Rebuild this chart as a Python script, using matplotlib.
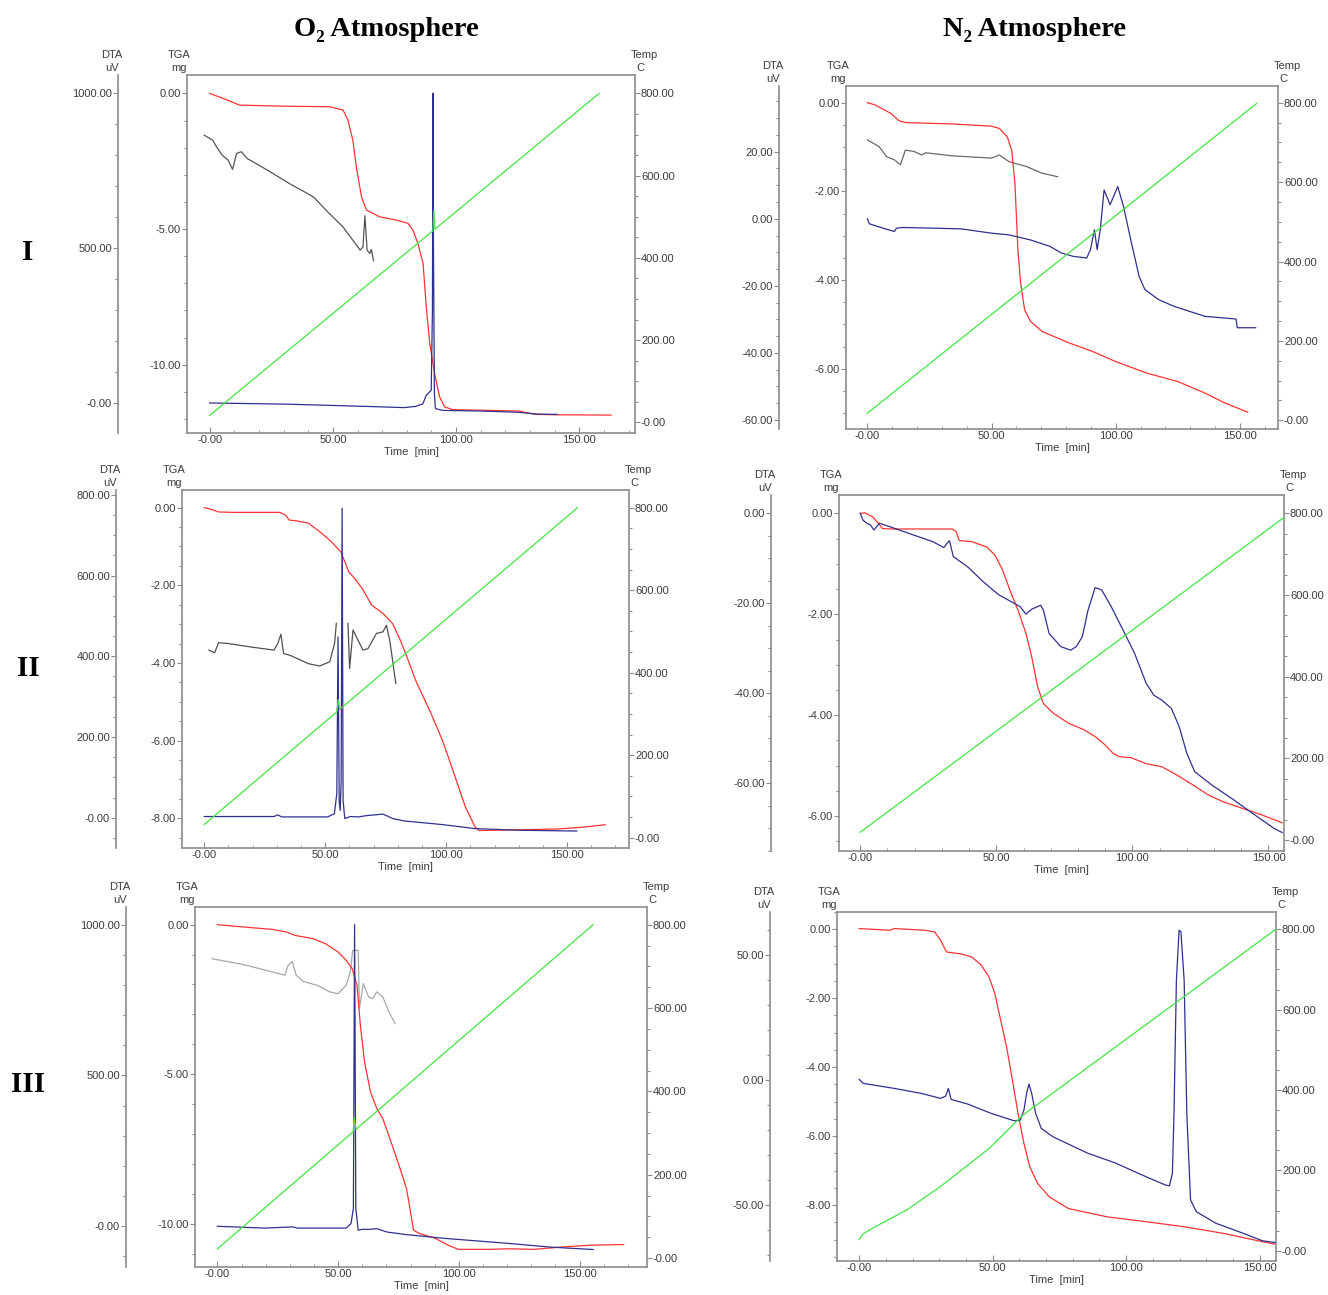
import matplotlib.pyplot as plt
from matplotlib.ticker import AutoMinorLocator

plt.rcParams['font.family'] = ['Liberation Sans', 'DejaVu Sans']

W, H = 1328, 1295
NAN = float('nan')

# ---------------- data ----------------
# O2, sample I
o2_1_tga_t = [0, 6, 12.1, 30, 48.7, 54.1, 56.1, 58.1, 59.5, 61.6, 63.6, 69.0, 75.8, 80.5, 82.5,
              84.5, 86.6, 87.9, 89.3, 91.3, 93.3, 95.4, 98.7, 110, 125.6, 131.8, 141.1, 162.9]
o2_1_tga = [0, -0.2, -0.43, -0.47, -0.49, -0.61, -0.98, -1.72, -2.70, -3.81, -4.30, -4.55, -4.67,
            -4.79, -5.04, -5.53, -6.27, -7.87, -9.22, -10.33, -11.19, -11.56, -11.66, -11.68,
            -11.71, -11.83, -11.85, -11.86]
o2_1_dta_t = [0, 32, 63, 79, 83.6, 86.5, 87.9, 89.9, 90.4, 90.6, 90.8, 91.2, 91.6, 94.5, 110, 125,
              133, 141]
o2_1_dta = [0, -4, -11, -15, -11, -3, 25, 41, 300, 1000, 520, 30, -18, -24, -26, -30, -36, -37]
o2_1_temp_t = [0, 90.6, 91.0, 91.4, 158]
o2_1_temp = [17, 466, 516, 470, 800]
o2_1_gray_t = [-2.2, 1.2, 2.8, 5.1, 7.5, 9.3, 10.9, 12.9, 15.2, 16.8, 24.6, 32.3, 40.9, 42.4, 47.9,
               54.1, 61.1, 62.2, 63.0, 63.9, 65.0, 65.6, 66.5]
o2_1_gray = [-1.54, -1.72, -1.97, -2.28, -2.46, -2.80, -2.21, -2.15, -2.40, -2.48, -2.89, -3.32,
             -3.75, -3.84, -4.37, -4.92, -5.78, -5.66, -4.51, -5.78, -5.90, -5.75, -6.17]

# N2, sample I
n2_1_tga_t = [0, 3.1, 9.4, 12.8, 15.6, 34.4, 50.0, 53.1, 56.3, 58.1, 59.4, 60.6, 61.7, 63.3, 65.6,
              70.3, 81.3, 90.6, 100, 112.5, 125, 135.9, 143.8, 153.1]
n2_1_tga = [0, -0.05, -0.24, -0.41, -0.45, -0.48, -0.53, -0.58, -0.77, -1.07, -1.82, -3.32, -4.07,
            -4.67, -4.93, -5.16, -5.42, -5.61, -5.84, -6.10, -6.29, -6.55, -6.77, -6.98]
n2_1_dta_t = [0, 0.8, 6.25, 10.9, 11.7, 14.1, 26.6, 37.5, 40.6, 50, 57, 65.6, 73.4, 78.1, 82.8, 88.3,
              89.8, 91.4, 92.5, 93.75, 95.3, 97.7, 100.8, 103.1, 106.3, 109.4, 111.7, 117.2, 123.4,
              135.9, 148.4, 148.9, 156.3]
n2_1_dta = [0, -1.5, -2.8, -3.8, -2.8, -2.6, -2.8, -3.0, -3.3, -4.3, -4.8, -6.3, -8.2, -10.2, -11.2,
            -11.7, -9.2, -3.3, -9.2, -3.3, 8.6, 4.2, 9.6, 3.7, -7.2, -17.2, -21.1, -24.1, -26.1,
            -29.1, -29.9, -32.5, -32.5]
n2_1_temp_t = [0, 156.7]
n2_1_temp = [18, 798]
n2_1_gray_t = [0, 4.7, 7.8, 10.9, 13.3, 15.3, 18.75, 21.9, 23.4, 34.4, 50, 53.1, 57, 64, 70.3, 76.6]
n2_1_gray = [-0.84, -0.99, -1.22, -1.29, -1.40, -1.07, -1.10, -1.18, -1.13, -1.20, -1.25, -1.18,
             -1.33, -1.44, -1.59, -1.67]

# O2, sample II
o2_2_tga_t = [0, 2.7, 5.9, 11.4, 31.2, 33.6, 35.2, 38.3, 43.1, 47.8, 52.6, 56.5, 59.7, 62.1, 65.3,
              69.2, 74, 77.9, 81.1, 84.3, 87.4, 93.8, 98.5, 103.3, 108.0, 112.0, 113.6, 130.2, 146,
              157.1, 165.8]
o2_2_tga = [0, -0.04, -0.11, -0.12, -0.12, -0.19, -0.32, -0.34, -0.40, -0.62, -0.88, -1.14, -1.65,
            -1.82, -2.08, -2.51, -2.73, -2.99, -3.42, -3.93, -4.45, -5.31, -6.0, -6.86, -7.72,
            -8.23, -8.32, -8.30, -8.28, -8.23, -8.17]
o2_2_dta_t = [0, 28.8, 30.4, 32, 51, 53.8, 54.8, 55.3, 55.8, 56.2, 56.6, 57.0, 57.4, 58.1, 60.5,
              63.7, 66.8, 73.9, 77.9, 82.7, 98.5, 112, 130, 154]
o2_2_dta = [3, 3, 7, 2, 2, 10, 60, 448, 40, 18, 90, 767, 43, -2, 3, 2, 5, 9, -2, -8, -17, -27, -31,
            -33]
o2_2_temp_t = [0, 54.8, 55.4, 56.0, 154.3]
o2_2_temp = [32, 305, 335, 311, 800]
o2_2_gray_t = [1.9, 4.3, 5.9, 9.8, 19.3, 28.8, 30.4, 31.7, 32.8, 35.3, 43.1, 47.7, 51.9, 53.9, 54.6,
               NAN, 59.4, 60.1, 61.5, 62.9, 65.6, 67.7, 71.2, 73.9, 75.3, 76.7, 79.2]
o2_2_gray = [-3.67, -3.74, -3.48, -3.50, -3.59, -3.67, -3.50, -3.26, -3.76, -3.80, -4.02, -4.08,
             -3.97, -3.49, -2.98, NAN, -2.98, -4.14, -3.15, -3.33, -3.67, -3.63, -3.24, -3.20,
             -3.03, -3.42, -4.53]

# N2, sample II
n2_2_tga_t = [0, 1.7, 4.6, 6.7, 8.1, 11, 33.8, 35.2, 36.4, 40.9, 46.6, 49.5, 52.3, 55.2, 58.0, 60.9,
              63.0, 65.2, 67.3, 70.9, 76.6, 82.3, 86.5, 89.4, 93.0, 95.1, 99.4, 105.1, 110.8, 116.5,
              122.2, 127.9, 133.6, 140.7, 147.8, 155]
n2_2_tga = [0, 0.01, -0.07, -0.20, -0.30, -0.31, -0.31, -0.36, -0.54, -0.56, -0.67, -0.83, -1.12,
            -1.55, -1.92, -2.38, -2.84, -3.44, -3.77, -3.96, -4.16, -4.29, -4.43, -4.56, -4.76,
            -4.82, -4.84, -4.96, -5.02, -5.19, -5.38, -5.58, -5.72, -5.85, -5.98, -6.13]
n2_2_dta_t = [0, 1, 2.4, 3.8, 5.0, 6.0, 7.0, 11, 19.5, 26.7, 30.7, 32.4, 32.8, 34.2, 39.5, 45.2, 50.9,
              56.6, 58.7, 60.9, 63, 66.3, 67.3, 69.4, 73.7, 77.3, 79.4, 81.6, 83.7, 86.3, 88.7, 92.2,
              97.2, 100.8, 105.1, 107.9, 110.8, 114.3, 117.2, 120.0, 122.9, 129.3, 136.4, 145.0,
              152.1, 155]
n2_2_dta = [0, -1.5, -2.2, -2.6, -3.7, -3.0, -2.2, -3.0, -4.8, -6.3, -7.6, -6.3, -6.1, -9.6, -11.9,
            -15.2, -18.1, -20.0, -20.7, -22.4, -21.3, -20.4, -21.5, -26.7, -29.6, -30.4, -29.6,
            -27.4, -21.5, -16.5, -17.0, -20.7, -26.7, -31.1, -37.8, -40.4, -41.5, -43.3, -47.4,
            -53.3, -57.4, -60.4, -63.3, -67.0, -70.0, -70.9]
n2_2_temp_t = [0, 155.7]
n2_2_temp = [19, 790]

# O2, sample III
o2_3_tga_t = [0, 11, 22.8, 28.7, 32.1, 39.7, 44.8, 49.9, 53.3, 55.8, 57.8, 59.2, 60.9, 63.4, 66,
              68.5, 71.9, 75.2, 78.3, 79.5, 81.2, 83.7, 90.5, 95.5, 99.8, 112.4, 120.9, 131, 142.9,
              154.7, 168.2]
o2_3_tga = [0, -0.08, -0.16, -0.25, -0.36, -0.47, -0.64, -0.91, -1.19, -1.47, -2.03, -3.37, -4.59,
            -5.60, -6.15, -6.49, -7.27, -8.05, -8.83, -9.39, -10.22, -10.33, -10.50, -10.72,
            -10.86, -10.86, -10.84, -10.86, -10.78, -10.72, -10.70]
o2_3_dta_t = [0, 19.4, 31.3, 33, 53.3, 55.3, 56.3, 56.8, 57.3, 58.3, 60, 63.4, 66, 70.2, 78.6, 95.5,
              120.9, 137.8, 155.6]
o2_3_dta = [0, -6, -2, -6, -6, 9, 59, 1000, 59, -13, -10, -10, -8, -19, -28, -41, -57, -69, -77]
o2_3_temp_t = [0, 56.2, 56.6, 57.4, 155.6]
o2_3_temp = [22, 303, 338, 309, 800]
o2_3_gray_t = [-2.2, 11, 27.9, 29.3, 31, 32.6, 35.5, 41.4, 46.5, 49.9, 53.3, 55, 56, 58.3, 58.8,
               60.4, 62.6, 64.3, 66, 68.5, 71, 73.6]
o2_3_gray = [-1.14, -1.34, -1.69, -1.36, -1.23, -1.69, -1.90, -2.03, -2.25, -2.31, -2.03, -1.58,
             -0.86, -0.86, -2.81, -1.97, -2.42, -2.47, -2.25, -2.42, -2.92, -3.31]

# N2, sample III
n2_3_tga_t = [0, 11.6, 13.1, 24.7, 28.3, 30.5, 32.7, 37.8, 42.1, 45.7, 48.6, 50.8, 53.0, 55.2, 57.4,
              59.5, 61.7, 63.9, 66.8, 71.2, 78.4, 92.9, 107.5, 122, 136.5, 151, 155.7]
n2_3_tga = [0.02, -0.03, 0.02, -0.03, -0.08, -0.32, -0.66, -0.71, -0.80, -1.04, -1.38, -1.86, -2.64,
            -3.41, -4.38, -5.34, -6.21, -6.89, -7.37, -7.76, -8.10, -8.34, -8.48, -8.63, -8.82,
            -9.06, -9.13]
n2_3_dta_t = [0, 1.5, 13.1, 23.2, 30.5, 32.4, 33.4, 34.4, 40.7, 49.4, 55.2, 58.1, 60.3, 61.7, 62.7,
              63.6, 64.6, 66.1, 68.2, 72.6, 85.7, 95.8, 107.5, 114.7, 116.2, 117.3, 117.9, 118.8,
              119.8, 120.5, 121.7, 122.7, 124.1, 126.3, 133.6, 143.8, 151, 155.7]
n2_3_dta = [0.3, -1.3, -3.3, -5.3, -7.3, -6.4, -3.3, -7.7, -9.6, -13.3, -15.3, -16.3, -16.0, -12.0,
            -5.3, -1.6, -5.3, -13.3, -19.3, -22.7, -29.3, -33.1, -38.7, -42, -42.3, -37.3, -13.3,
            40, 60, 59.3, 40, -13.3, -48, -52.7, -57.3, -61.3, -64.3, -65]
n2_3_temp_t = [0, 1.5, 5, 17.7, 30.1, 48.8, 61.2, 156]
n2_3_temp = [28, 42, 56, 101, 158, 255, 337, 800]

# tick values / labels
x_ticks = [0, 50, 100, 150]
x_labels = ['-0.00', '50.00', '100.00', '150.00']
temp_ticks = [800, 600, 400, 200, 0]
temp_labels = ['800.00', '600.00', '400.00', '200.00', '-0.00']
tga_ticks_5 = [0, -5, -10]
tga_labels_5 = ['0.00', '-5.00', '-10.00']
tga_ticks_2 = [0, -2, -4, -6, -8]
tga_labels_2 = ['0.00', '-2.00', '-4.00', '-6.00', '-8.00']
dta_ticks_o2_1 = [1000, 500, 0]
dta_labels_o2_1 = ['1000.00', '500.00', '-0.00']
dta_ticks_n2_1 = [20, 0, -20, -40, -60]
dta_labels_n2_1 = ['20.00', '0.00', '-20.00', '-40.00', '-60.00']
dta_ticks_o2_2 = [800, 600, 400, 200, 0]
dta_labels_o2_2 = ['800.00', '600.00', '400.00', '200.00', '-0.00']
dta_ticks_n2_2 = [0, -20, -40, -60]
dta_labels_n2_2 = ['0.00', '-20.00', '-40.00', '-60.00']
dta_ticks_n2_3 = [50, 0, -50]
dta_labels_n2_3 = ['50.00', '0.00', '-50.00']

# ---------------- styling ----------------
RED = '#ff3333'
GREEN = '#42e642'
BLUE = '#30308f'
FRAME = '#8c8c8c'
TXT = '#3c3c3c'
LW = 0.9
FS = 8


def draw_panel(fig, frame, dta_off, lims, tga_tk, dta_tk, minors,
               tga, dta, temp, gray=None, gray_color='#555555'):
    l, t, r, b = frame
    wpx, hpx = r - l, b - t
    ax = fig.add_axes([l / W, 1 - b / H, wpx / W, hpx / H])
    ax_dta = ax.twinx()
    ax_tmp = ax.twinx()

    xl, tgal, dtal, tmpl = lims
    ax.set_xlim(*xl)
    ax.set_ylim(*tgal)
    ax_dta.set_ylim(*dtal)
    ax_tmp.set_ylim(*tmpl)

    # frame
    for s in ax.spines.values():
        s.set_color(FRAME)
        s.set_linewidth(1.2)
    for s in ax_dta.spines.values():
        s.set_visible(False)
    for s in ax_tmp.spines.values():
        s.set_visible(False)
    sp = ax_dta.spines['left']
    sp.set_visible(True)
    sp.set_position(('axes', -dta_off / wpx))
    sp.set_color(FRAME)
    sp.set_linewidth(1.2)
    ax_dta.yaxis.set_ticks_position('left')
    ax_dta.yaxis.set_label_position('left')

    ax.set_xticks(x_ticks, labels=x_labels)
    ax.set_yticks(tga_tk[0], labels=tga_tk[1])
    ax_dta.set_yticks(dta_tk[0], labels=dta_tk[1])
    ax_tmp.set_yticks(temp_ticks, labels=temp_labels)

    ax.xaxis.set_minor_locator(AutoMinorLocator(5))
    ax.yaxis.set_minor_locator(AutoMinorLocator(minors[0]))
    ax_dta.yaxis.set_minor_locator(AutoMinorLocator(minors[1]))
    ax_tmp.yaxis.set_minor_locator(AutoMinorLocator(4))

    ax.tick_params(axis='x', which='major', direction='in', length=4, pad=1.5,
                   labelsize=FS, labelcolor=TXT, color=FRAME, top=False)
    ax.tick_params(axis='x', which='minor', direction='in', length=2.5, color=FRAME, top=False)
    for a in (ax, ax_dta, ax_tmp):
        a.tick_params(axis='y', which='major', direction='out', length=3.5, pad=0.8,
                      labelsize=FS, labelcolor=TXT, color=FRAME, width=0.8)
        a.tick_params(axis='y', which='minor', direction='out', length=2.5,
                      color=FRAME, width=0.8)

    # curves
    if gray is not None:
        ax.plot(gray[0], gray[1], color=gray_color, lw=LW)
    ax.plot(tga[0], tga[1], color=RED, lw=LW)
    ax_dta.plot(dta[0], dta[1], color=BLUE, lw=LW)
    ax_tmp.plot(temp[0], temp[1], color=GREEN, lw=LW)

    # axis titles
    tx = dict(fontsize=FS, color=TXT, ha='center', va='center', transform=ax.transAxes)
    y1, y2 = 1 + 20 / hpx, 1 + 7 / hpx
    xd = -(dta_off + 6) / wpx
    ax.text(xd, y1, 'DTA', **tx)
    ax.text(xd, y2, 'uV', **tx)
    ax.text(-8 / wpx, y1, 'TGA', **tx)
    ax.text(-8 / wpx, y2, 'mg', **tx)
    ax.text(1 + 9 / wpx, y1, 'Temp', **tx)
    ax.text(1 + 5 / wpx, y2, 'C', **tx)
    ax.text(0.5, -19 / hpx, 'Time  [min]', **tx)
    return ax


fig = plt.figure(figsize=(W / 100, H / 100), dpi=100)

draw_panel(fig, (187, 75, 635, 433), 69,
           ((-9.2, 172.6), (-12.52, 0.68), (-97, 1059), (-26, 845)),
           (tga_ticks_5, tga_labels_5), (dta_ticks_o2_1, dta_labels_o2_1), (5, 5),
           (o2_1_tga_t, o2_1_tga), (o2_1_dta_t, o2_1_dta), (o2_1_temp_t, o2_1_temp),
           (o2_1_gray_t, o2_1_gray), '#555555')

draw_panel(fig, (846, 86, 1278, 429), 67,
           ((-8.6, 165.3), (-7.36, 0.376), (-62.7, 39.6), (-21.8, 842)),
           (tga_ticks_2[:4], tga_labels_2[:4]), (dta_ticks_n2_1, dta_labels_n2_1), (4, 4),
           (n2_1_tga_t, n2_1_tga), (n2_1_dta_t, n2_1_dta), (n2_1_temp_t, n2_1_temp),
           (n2_1_gray_t, n2_1_gray), '#6a6a6a')

draw_panel(fig, (182, 490, 629, 848), 66,
           ((-9.2, 175.6), (-8.77, 0.456), (-75, 812), (-25, 843)),
           (tga_ticks_2, tga_labels_2), (dta_ticks_o2_2, dta_labels_o2_2), (4, 4),
           (o2_2_tga_t, o2_2_tga), (o2_2_dta_t, o2_2_dta), (o2_2_temp_t, o2_2_temp),
           (o2_2_gray_t, o2_2_gray), '#505050')

draw_panel(fig, (839, 495, 1284, 851), 68,
           ((-7.8, 155.7), (-6.69, 0.363), (-75, 4.07), (-27, 845)),
           (tga_ticks_2[:4], tga_labels_2[:4]), (dta_ticks_n2_2, dta_labels_n2_2), (4, 4),
           (n2_2_tga_t, n2_2_tga), (n2_2_dta_t, n2_2_dta), (n2_2_temp_t, n2_2_temp))

draw_panel(fig, (195, 907, 647, 1267), 69,
           ((-9.3, 177.9), (-11.45, 0.59), (-135, 1058.6), (-21.6, 842.4)),
           (tga_ticks_5, tga_labels_5), (dta_ticks_o2_1, dta_labels_o2_1), (5, 5),
           (o2_3_tga_t, o2_3_tga), (o2_3_dta_t, o2_3_dta), (o2_3_temp_t, o2_3_temp),
           (o2_3_gray_t, o2_3_gray), '#a8a8a8')

draw_panel(fig, (837, 912, 1276, 1261), 67,
           ((-8.3, 156.1), (-9.62, 0.50), (-72.4, 67.3), (-25.7, 843)),
           (tga_ticks_2, tga_labels_2), (dta_ticks_n2_3, dta_labels_n2_3), (4, 5),
           (n2_3_tga_t, n2_3_tga), (n2_3_dta_t, n2_3_dta), (n2_3_temp_t, n2_3_temp))

serif = ['Liberation Serif', 'DejaVu Serif']
fig.text(386 / W, 1 - 30 / H, 'O\u2082 Atmosphere', family=serif, weight='bold',
         fontsize=20.5, ha='center', va='center')
fig.text(1035 / W, 1 - 30 / H, 'N\u2082 Atmosphere', family=serif, weight='bold',
         fontsize=20.5, ha='center', va='center')
for lbl, yy in (('I', 252), ('II', 669), ('III', 1085)):
    fig.text(28 / W, 1 - yy / H, lbl, family=serif, weight='bold', fontsize=21,
             ha='center', va='center')

fig.savefig('out.png', dpi=100)
